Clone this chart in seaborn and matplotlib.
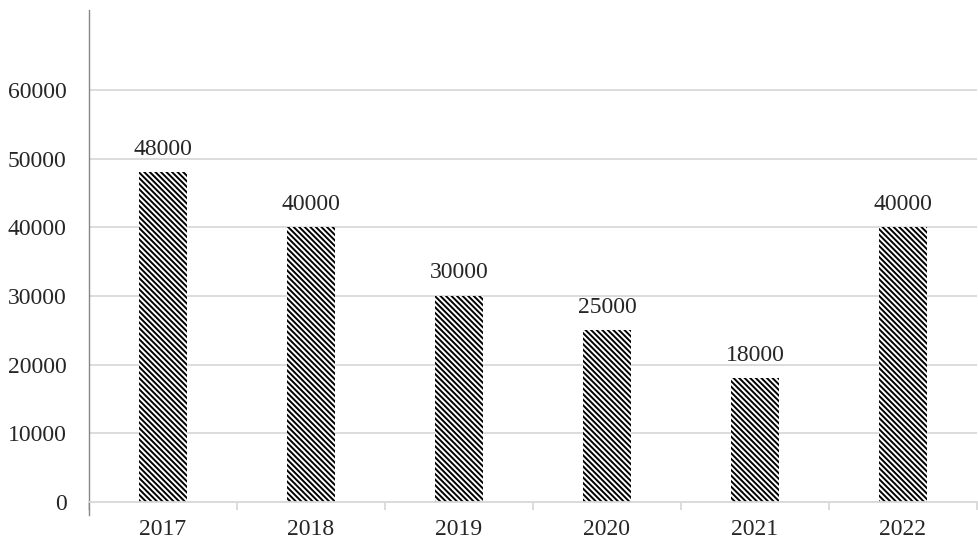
import numpy as np
import pandas as pd
import matplotlib
matplotlib.use("Agg")
import matplotlib.pyplot as plt
import seaborn as sns

years = ["2017", "2018", "2019", "2020", "2021", "2022"]
values = [48000, 40000, 30000, 25000, 18000, 40000]
y_ticks = [0, 10000, 20000, 30000, 40000, 50000, 60000]

df = pd.DataFrame({"year": years, "value": values})

sns.set_style("white")
plt.rcParams["font.family"] = ["Liberation Serif", "DejaVu Serif"]
plt.rcParams["hatch.linewidth"] = 1.4
plt.rcParams["hatch.color"] = "black"

fig = plt.figure(figsize=(9.79, 5.46), dpi=100)
ax = fig.add_axes([89 / 979, 44 / 546, 888 / 979, 492 / 546])

sns.barplot(data=df, x="year", y="value", ax=ax, color="white",
            edgecolor="black", linewidth=0, width=0.32, hatch="\\" * 6,
            saturation=1)

ax.bar_label(ax.containers[0], fmt="%d", padding=9, fontsize=17)

ax.set_xlim(-0.5, len(years) - 0.5)
ax.set_ylim(0, 71650)
ax.set_yticks(y_ticks)
ax.set_xlabel("")
ax.set_ylabel("")

ax.set_axisbelow(True)
ax.yaxis.grid(True, color="#d9d9d9", linewidth=1.3)
ax.xaxis.grid(False)

# category boundary ticks on the x axis
ax.set_xticks(np.arange(-0.5, len(years), 1.0), minor=True)
ax.tick_params(axis="x", which="minor", length=6, width=1.3, color="#d9d9d9",
               direction="out", bottom=True)
ax.tick_params(axis="x", which="major", length=0, pad=12, labelsize=17)
ax.tick_params(axis="y", which="major", length=0, pad=16, labelsize=17)

for side in ["top", "right"]:
    ax.spines[side].set_visible(False)
ax.spines["bottom"].set_color("#d9d9d9")
ax.spines["bottom"].set_linewidth(1.3)
ax.spines["left"].set_color("#868686")
ax.spines["left"].set_linewidth(1.0)
ax.spines["left"].set_bounds(-1900, 71650)

fig.savefig("out.png", dpi=100)
